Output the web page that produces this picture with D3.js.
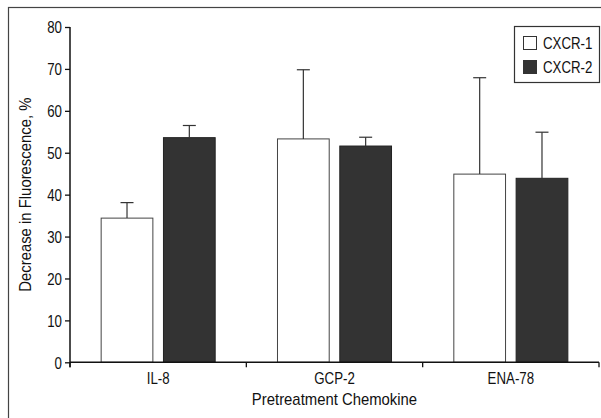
<!DOCTYPE html>
<html>
<head>
<meta charset="utf-8">
<script src="https://cdn.jsdelivr.net/npm/d3@7"></script>
<style>
  body { margin: 0; background: #fff; }
  svg text { font-family: "Liberation Sans", Arial, sans-serif; fill: #111; font-size: 16px; }
</style>
</head>
<body>
<svg id="chart" width="601" height="418"></svg>
<script>
// data
const chemokines = ["IL-8", "GCP-2", "ENA-78"];
const receptors = ["CXCR-1", "CXCR-2"];
const cxcr1Mean = [34.4, 53.3, 44.9];
const cxcr1Err = [3.7, 16.5, 23.0];
const cxcr2Mean = [53.6, 51.6, 43.9];
const cxcr2Err = [2.9, 2.1, 11.0];
const yTicks = [0, 10, 20, 30, 40, 50, 60, 70, 80];

const rows = [];
chemokines.forEach((c, i) => {
    rows.push({ cat: c, rec: "CXCR-1", v: cxcr1Mean[i], e: cxcr1Err[i] });
    rows.push({ cat: c, rec: "CXCR-2", v: cxcr2Mean[i], e: cxcr2Err[i] });
});

const svg = d3.select("#chart");
const margin = { top: 27, left: 70 };
const narrow = 0.83;   // squeeze for the condensed face
const titleSqueeze = 0.93;

const fill = d3.scaleOrdinal().domain(receptors).range(["#ffffff", "#333333"]);

// outer frame (right/bottom run off the picture)
svg.append("rect")
    .attr("x", 8.5).attr("y", 7.5).attr("width", 620).attr("height", 440)
    .attr("fill", "none").attr("stroke", "#444").attr("stroke-width", 1.2);

const x0 = d3.scaleBand().domain(chemokines).range([margin.left, 599]).padding(0);
const x1 = d3.scaleBand().domain(receptors).range([0, x0.bandwidth()]).paddingInner(0.17).paddingOuter(0.5);
const y = d3.scaleLinear().domain([0, 80]).range([362.3, margin.top]);

// bars
svg.selectAll(".bar").data(rows).join("rect")
    .attr("class", "bar")
    .attr("x", d => x0(d.cat) + x1(d.rec))
    .attr("y", d => y(d.v))
    .attr("width", x1.bandwidth())
    .attr("height", d => y(0) - y(d.v))
    .attr("fill", d => fill(d.rec))
    .attr("stroke", d => d.rec === "CXCR-1" ? "#444" : "#222")
    .attr("stroke-width", 1);

// error bars (upper only)
const eb = svg.selectAll(".err").data(rows).join("g").attr("class", "err")
    .attr("stroke", "#333").attr("stroke-width", 1.2);
eb.append("line")
    .attr("x1", d => x0(d.cat) + x1(d.rec) + x1.bandwidth() / 2)
    .attr("x2", d => x0(d.cat) + x1(d.rec) + x1.bandwidth() / 2)
    .attr("y1", d => y(d.v)).attr("y2", d => y(d.v + d.e));
eb.append("line")
    .attr("x1", d => x0(d.cat) + x1(d.rec) + x1.bandwidth() / 2 - 6.5)
    .attr("x2", d => x0(d.cat) + x1(d.rec) + x1.bandwidth() / 2 + 6.5)
    .attr("y1", d => y(d.v + d.e)).attr("y2", d => y(d.v + d.e));

// y axis
const yAxis = svg.append("g").attr("transform", `translate(${margin.left},0)`)
    .call(d3.axisLeft(y).tickValues(yTicks).tickSize(5).tickPadding(3));
yAxis.select(".domain").attr("stroke", "#111").attr("stroke-width", 1.5).attr("d", `M0,${y(80)}V${y(0) + 5}`);
yAxis.selectAll(".tick line").attr("stroke", "#111").attr("stroke-width", 1.3);
yAxis.selectAll("text")
    .attr("x", null).attr("dy", null)
    .attr("transform", `translate(-8,5.8) scale(${narrow},1)`)
    .style("font-size", "16px").style("font-family", "Liberation Sans, Arial, sans-serif");

// x axis: ticks at category boundaries
const xg = svg.append("g").attr("transform", `translate(0,${y(0)})`);
xg.append("line").attr("x1", margin.left).attr("x2", 599).attr("y1", 0).attr("y2", 0)
    .attr("stroke", "#111").attr("stroke-width", 1.5);
const bounds = chemokines.map(c => x0(c)).concat([x0.range()[1]]);
xg.selectAll(".xt").data(bounds).join("line")
    .attr("x1", d => d).attr("x2", d => d).attr("y1", 0).attr("y2", 5)
    .attr("stroke", "#111").attr("stroke-width", 1.3);
xg.selectAll(".xl").data(chemokines).join("text")
    .attr("transform", d => `translate(${x0(d) + x0.bandwidth() / 2},22) scale(${narrow},1)`)
    .attr("text-anchor", "middle")
    .text(d => d);

// axis titles
svg.append("text")
    .attr("transform", `translate(${(margin.left + 599) / 2},405) scale(${titleSqueeze},1)`)
    .attr("text-anchor", "middle")
    .text("Pretreatment Chemokine");
svg.append("text")
    .attr("transform", `translate(31,${(y(0) + y(80)) / 2}) rotate(-90) scale(${titleSqueeze},1)`)
    .attr("text-anchor", "middle")
    .text("Decrease in Fluorescence, %");

// legend
const lg = svg.append("g").attr("transform", "translate(514.5,26.5)");
lg.append("rect").attr("width", 85).attr("height", 56)
    .attr("fill", "#fff").attr("stroke", "#333").attr("stroke-width", 1.2);
const li = lg.selectAll(".li").data(receptors).join("g")
    .attr("transform", (d, i) => `translate(9,${10 + i * 24})`);
li.append("rect").attr("width", 13).attr("height", 13)
    .attr("fill", d => fill(d)).attr("stroke", "#333").attr("stroke-width", 1);
li.append("text").attr("transform", `translate(19.5,12.5) scale(${narrow},1)`).text(d => d);
</script>
</body>
</html>
